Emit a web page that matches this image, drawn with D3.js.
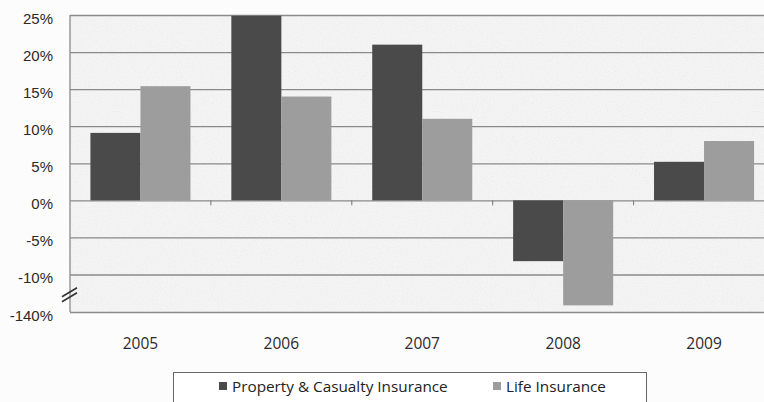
<!DOCTYPE html>
<html>
<head>
<meta charset="utf-8">
<script src="https://cdn.jsdelivr.net/npm/d3@7"></script>
<style>
  body { margin: 0; background: #fcfcfc; }
  svg { display: block; font-family: "Open Sans", sans-serif; }
  .axis text { fill: #2a2a2a; }
</style>
</head>
<body>
<div id="chart"></div>
<script>
var years = ["2005", "2006", "2007", "2008", "2009"];
var seriesNames = ["Property & Casualty Insurance", "Life Insurance"];
var propertyCasualty = [9.1, 24.9, 21.0, -8.2, 5.2];
var lifeInsurance = [15.4, 14.0, 11.0, -117, 8.0];
var yTicks = [25, 20, 15, 10, 5, 0, -5, -10, -140];
var colors = ["#4a4a4a", "#9d9d9d"];

var width = 764, height = 402;
var margin = {top: 15, left: 70};
var plotBottom = 312;

var svg = d3.select("#chart")
    .append("svg")
    .attr("width", width)
    .attr("height", height);

// faint paper grain
var defs = svg.append("defs");
var grain = defs.append("filter").attr("id", "grain")
    .attr("x", 0).attr("y", 0).attr("width", "100%").attr("height", "100%");
grain.append("feTurbulence")
    .attr("type", "fractalNoise")
    .attr("baseFrequency", 0.8)
    .attr("numOctaves", 2)
    .attr("seed", 3);
grain.append("feColorMatrix")
    .attr("type", "matrix")
    .attr("values", "0 0 0 0 0.4  0 0 0 0 0.4  0 0 0 0 0.4  0 0 0 -2 1.1");

var x0 = d3.scaleBand()
    .domain(years)
    .range([margin.left, 774.5])
    .paddingInner(0.29)
    .paddingOuter(0.145);

var x1 = d3.scaleBand()
    .domain([0, 1])
    .range([0, x0.bandwidth()]);

// broken axis: -140 .. -10 squeezed into one step
var y = d3.scaleLinear()
    .domain([-140, -10, 25])
    .range([plotBottom, 274.5, margin.top]);

// plot background
svg.append("rect")
    .attr("x", margin.left)
    .attr("y", margin.top)
    .attr("width", width - margin.left)
    .attr("height", plotBottom - margin.top)
    .attr("fill", "#f4f4f4");
svg.append("rect")
    .attr("x", margin.left)
    .attr("y", margin.top)
    .attr("width", width - margin.left)
    .attr("height", plotBottom - margin.top)
    .attr("filter", "url(#grain)")
    .attr("opacity", 0.12);

// gridlines + y labels
var yAxis = d3.axisLeft(y)
    .tickValues(yTicks)
    .tickSize(-(width - margin.left))
    .tickPadding(17)
    .tickFormat(function(d) { return d + "%"; });

var gy = svg.append("g")
    .attr("class", "axis y-axis")
    .attr("transform", "translate(" + margin.left + ",0)")
    .call(yAxis);
gy.select(".domain").remove();
gy.selectAll("line").attr("stroke", "#8a8a8a").attr("stroke-width", 1.3);
gy.selectAll("text")
    .attr("dy", "0.55em")
    .style("font-size", "15px");

// left axis line
svg.append("line")
    .attr("x1", margin.left).attr("x2", margin.left)
    .attr("y1", margin.top).attr("y2", plotBottom)
    .attr("stroke", "#8a8a8a").attr("stroke-width", 1.3);

// bars
var rows = years.map(function(yr, i) {
    return {year: yr, values: [propertyCasualty[i], lifeInsurance[i]]};
});

var groups = svg.selectAll(".group")
    .data(rows)
    .enter().append("g")
    .attr("class", "group")
    .attr("transform", function(d) { return "translate(" + x0(d.year) + ",0)"; });

groups.selectAll("rect")
    .data(function(d) { return d.values.map(function(v, k) { return {k: k, v: v}; }); })
    .enter().append("rect")
    .attr("x", function(d) { return x1(d.k); })
    .attr("width", x1.bandwidth())
    .attr("y", function(d) { return y(Math.max(0, d.v)); })
    .attr("height", function(d) { return Math.abs(y(d.v) - y(0)); })
    .attr("fill", function(d) { return colors[d.k]; });

// category ticks on zero line
var step = x0.step();
svg.selectAll(".cat-tick")
    .data(years.slice(1))
    .enter().append("line")
    .attr("class", "cat-tick")
    .attr("x1", function(d) { return x0(d) - x0.paddingInner() * step / 2; })
    .attr("x2", function(d) { return x0(d) - x0.paddingInner() * step / 2; })
    .attr("y1", y(0))
    .attr("y2", y(0) + 5)
    .attr("stroke", "#777");

// year labels
svg.selectAll(".year")
    .data(years)
    .enter().append("text")
    .attr("class", "year")
    .attr("x", function(d) { return x0(d) + x0.bandwidth() / 2; })
    .attr("y", 349)
    .attr("text-anchor", "middle")
    .style("font-size", "15.5px")
    .style("fill", "#2a2a2a")
    .text(function(d) { return d; });

// axis break marks
var breakY = (y(-10) + plotBottom) / 2;
[-2.5, 2.5].forEach(function(off) {
    svg.append("line")
        .attr("x1", margin.left - 8).attr("y1", breakY + 6 + off)
        .attr("x2", margin.left + 7).attr("y2", breakY - 3 + off)
        .attr("stroke", "#333")
        .attr("stroke-width", 1.6);
});

// legend
var legend = svg.append("g").attr("class", "legend");
legend.append("rect")
    .attr("x", 173.5).attr("y", 372.5)
    .attr("width", 473).attr("height", 40)
    .attr("fill", "#ffffff")
    .attr("stroke", "#666");

var legendX = [219, 493];
seriesNames.forEach(function(name, k) {
    legend.append("rect")
        .attr("x", legendX[k]).attr("y", 382)
        .attr("width", 8).attr("height", 8)
        .attr("fill", colors[k]);
    legend.append("text")
        .attr("x", legendX[k] + 13)
        .attr("y", 392)
        .style("font-size", "15.3px")
        .style("fill", "#222")
        .text(name);
});
</script>
</body>
</html>
